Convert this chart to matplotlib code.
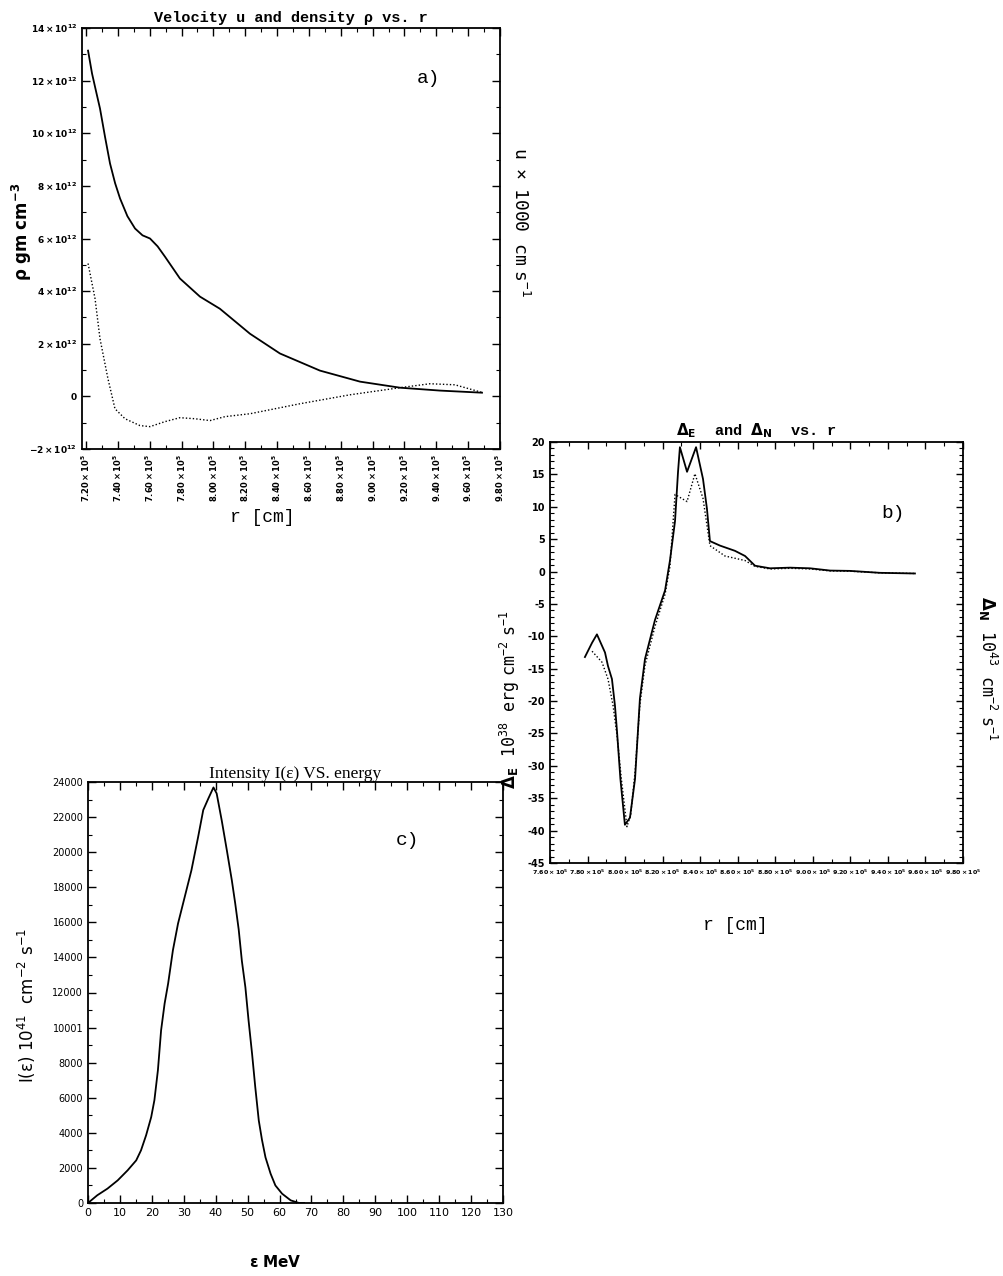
import matplotlib
matplotlib.use("Agg")
import matplotlib.pyplot as plt
from matplotlib.ticker import MultipleLocator, FixedLocator
import numpy as np

# a) density rho (solid) and velocity u (dotted) against radius, r in 1e5 cm, values in 1e12
r_rho = [7.213, 7.238, 7.263, 7.288, 7.320, 7.351, 7.383, 7.414, 7.460, 7.508,
         7.555, 7.602, 7.650, 7.696, 7.790, 7.916, 8.041, 8.230, 8.418, 8.669,
         8.921, 9.172, 9.423, 9.687]
rho = [13.14, 12.27, 11.6, 10.94, 9.85, 8.85, 8.10, 7.52, 6.85, 6.38,
       6.12, 6.00, 5.70, 5.31, 4.48, 3.79, 3.33, 2.38, 1.63, 0.98,
       0.56, 0.33, 0.22, 0.14]
r_u = [7.213, 7.257, 7.288, 7.338, 7.382, 7.445, 7.539, 7.602, 7.696, 7.790,
       7.884, 7.979, 8.073, 8.230, 8.544, 8.858, 9.172, 9.360, 9.517, 9.693]
u = [5.05, 3.71, 2.19, 0.67, -0.47, -0.85, -1.11, -1.15, -0.96, -0.81,
     -0.85, -0.92, -0.77, -0.66, -0.28, 0.06, 0.33, 0.48, 0.44, 0.14]

# b) energy flux Delta_E (solid) and number flux Delta_N (dotted)
r_de = [7.786, 7.824, 7.850, 7.893, 7.909, 7.930, 7.946, 7.957, 7.975, 7.999,
        8.026, 8.053, 8.079, 8.106, 8.159, 8.213, 8.239, 8.266, 8.282, 8.292,
        8.330, 8.378, 8.415, 8.436, 8.452, 8.506, 8.585, 8.639, 8.692, 8.772,
        8.878, 8.985, 9.092, 9.198, 9.358, 9.544]
d_e = [-13.2, -11.0, -9.7, -12.5, -14.6, -16.6, -20.7, -24.7, -32.0, -39.1,
       -38.0, -32.0, -19.6, -13.5, -7.5, -2.9, 1.7, 7.8, 15.4, 19.2,
       15.4, 19.2, 14.3, 9.7, 4.7, 4.0, 3.2, 2.4, 0.9, 0.5,
       0.6, 0.5, 0.15, 0.1, -0.2, -0.3]
r_dn = [7.824, 7.877, 7.909, 7.936, 7.957, 7.980, 8.010, 8.030, 8.053, 8.079,
        8.106, 8.159, 8.213, 8.239, 8.266, 8.330, 8.372, 8.415, 8.452, 8.532,
        8.639, 8.692, 8.772, 8.878, 8.985, 9.092, 9.198, 9.358, 9.544]
d_n = [-12.3, -14.0, -16.6, -20.7, -25.3, -32.0, -39.4, -37.5, -31.0, -20.5,
       -14.5, -8.5, -3.5, 0.8, 11.9, 10.8, 15.1, 11.3, 4.0, 2.4,
       1.7, 0.8, 0.4, 0.5, 0.4, 0.1, 0.05, -0.2, -0.3]

# c) intensity spectrum, energy in MeV, intensity in 1e41 units
eps = [0.0, 2.9, 6.1, 9.3, 12.4, 15.1, 16.6, 18.2, 19.8, 20.8, 21.9, 22.9,
       24.0, 25.1, 26.6, 28.2, 30.3, 32.4, 34.5, 36.1, 37.7, 39.3, 40.3,
       41.9, 43.5, 45.05, 46.1, 47.2, 48.2, 49.3, 50.3, 51.4, 52.4, 53.5,
       54.5, 55.6, 57.2, 58.7, 60.8, 63.5, 66.1, 67.7]
intensity = [0, 440, 820, 1290, 1860, 2430, 3000, 3860, 4900, 5860, 7570,
             9850, 11370, 12510, 14410, 15930, 17450, 18970, 20870, 22400,
             23060, 23690, 23350, 21800, 20100, 18400, 17100, 15600, 13800,
             12300, 10400, 8500, 6600, 4700, 3600, 2600, 1670, 1000, 530,
             150, 0, 0]

a_xticks = [7.2, 7.4, 7.6, 7.8, 8.0, 8.2, 8.4, 8.6, 8.8, 9.0, 9.2, 9.4, 9.6, 9.8]
a_yticks = [-2, 0, 2, 4, 6, 8, 10, 12, 14]
b_xticks = [7.6, 7.8, 8.0, 8.2, 8.4, 8.6, 8.8, 9.0, 9.2, 9.4, 9.6, 9.8]
b_yticks = [20, 15, 10, 5, 0, -5, -10, -15, -20, -25, -30, -35, -40, -45]
c_xticks = list(range(0, 131, 10))
c_yticks = list(range(0, 24001, 2000))
c_ylabels = ['0', '2000', '4000', '6000', '8000', '10001', '12000', '14000',
             '16000', '18000', '20000', '22000', '24000']

plt.rcParams['mathtext.fontset'] = 'dejavusans'
MONO = ['Liberation Mono', 'DejaVu Sans']
SERIF = ['Liberation Serif', 'DejaVu Serif']

W, H = 1004, 1276
fig = plt.figure(figsize=(W / 100, H / 100), dpi=100)


def box(l, t, r, b):
    return [l / W, 1 - b / H, (r - l) / W, (b - t) / H]


def ftext(x, y, s, **kw):
    fig.text(x / W, 1 - y / H, s, ha='center', va='center', **kw)


def style_axes(ax):
    for sp in ax.spines.values():
        sp.set_linewidth(1.3)
    ax.tick_params(which='both', direction='in', top=True, right=True)
    ax.tick_params(which='major', length=6, width=1.0)
    ax.tick_params(which='minor', length=3, width=0.8)


# ---- panel a ----
ax1 = fig.add_axes(box(82, 28, 500, 449))
ax1.plot(r_rho, rho, color='black', lw=1.3)
ax1.plot(r_u, u, color='black', lw=1.0, ls=(0, (1, 1.5)))
ax1.set_xlim(7.175, 9.80)
ax1.set_ylim(-2, 14)
ax1.xaxis.set_major_locator(FixedLocator(a_xticks))
ax1.xaxis.set_minor_locator(MultipleLocator(0.1))
ax1.yaxis.set_major_locator(FixedLocator(a_yticks))
ax1.yaxis.set_minor_locator(MultipleLocator(1))
ax1.set_xticklabels([r'$\mathbf{%.2f\times10^5}$' % v for v in a_xticks],
                    rotation=90, fontsize=6)
ax1.set_yticklabels(['0' if v == 0 else r'$\mathbf{%d\times10^{12}}$' % v
                     for v in a_yticks], fontsize=6.5, fontweight='bold')
style_axes(ax1)
ax1.set_title(u'Velocity u and density \u03c1 vs. r', family=MONO,
              fontweight='bold', fontsize=11, pad=4)
ax1.text(0.83, 0.88, 'a)', transform=ax1.transAxes, family=MONO,
         fontsize=14, ha='center', va='center')
ftext(262, 517, 'r [cm]', family=MONO, fontsize=13)
ftext(22, 232, r'$\mathbf{\rho\ gm\ cm^{-3}}$', fontsize=12, rotation=90)
ftext(520, 222, r'$\mathtt{u\ \times\ 1000\ \ cm\ s^{-1}}$', fontsize=13,
      rotation=270)

# ---- panel b ----
ax2 = fig.add_axes(box(550, 442, 963, 863))
ax2.plot(r_de, d_e, color='black', lw=1.3)
ax2.plot(r_dn, d_n, color='black', lw=1.0, ls=(0, (1, 1.5)))
ax2.set_xlim(7.6, 9.8)
ax2.set_ylim(-45, 20)
ax2.xaxis.set_major_locator(FixedLocator(b_xticks))
ax2.xaxis.set_minor_locator(MultipleLocator(0.1))
ax2.yaxis.set_major_locator(FixedLocator(b_yticks))
ax2.yaxis.set_minor_locator(MultipleLocator(1))
ax2.set_xticklabels([r'$\mathbf{%.2f\times10^5}$' % v for v in b_xticks],
                    fontsize=4.5)
ax2.set_yticklabels(['%d' % v for v in b_yticks], fontsize=7,
                    fontweight='bold')
style_axes(ax2)
ax2.tick_params(which='major', length=5)
ax2.set_title(r'$\mathbf{\Delta_E}$  and $\mathbf{\Delta_N}$  vs. r',
              family=MONO, fontweight='bold', fontsize=11, pad=5)
ax2.text(0.83, 0.83, 'b)', transform=ax2.transAxes, family=MONO,
         fontsize=14, ha='center', va='center')
ftext(735, 925, 'r [cm]', family=MONO, fontsize=13)
ftext(510, 700, r'$\mathbf{\Delta_E}\ \ \mathtt{10^{38}\ \ erg\ cm^{-2}\ s^{-1}}$',
      fontsize=12, rotation=90)
ftext(988, 668, r'$\mathbf{\Delta_N}\ \ \mathtt{10^{43}\ \ cm^{-2}\ s^{-1}}$',
      fontsize=12, rotation=270)

# ---- panel c ----
ax3 = fig.add_axes(box(88, 782, 503, 1203))
ax3.plot(eps, intensity, color='black', lw=1.3)
ax3.set_xlim(0, 130)
ax3.set_ylim(0, 24000)
ax3.xaxis.set_major_locator(FixedLocator(c_xticks))
ax3.xaxis.set_minor_locator(MultipleLocator(5))
ax3.yaxis.set_major_locator(FixedLocator(c_yticks))
ax3.yaxis.set_minor_locator(MultipleLocator(1000))
ax3.set_xticklabels([str(v) for v in c_xticks], fontsize=8)
ax3.set_yticklabels(c_ylabels, fontsize=7)
style_axes(ax3)
ax3.set_title(u'Intensity I(\u03b5) VS. energy', family=SERIF, fontsize=12.5,
              pad=3)
ax3.text(0.77, 0.86, 'c)', transform=ax3.transAxes, family=MONO,
         fontsize=14, ha='center', va='center')
ftext(275, 1262, r'$\mathbf{\varepsilon\ MeV}$', fontsize=11)
ftext(27, 1005, r'$\mathrm{I(\varepsilon)\ 10^{41}\ \ cm^{-2}\ s^{-1}}$',
      fontsize=12, rotation=90)

fig.savefig('out.png', dpi=100, facecolor='white')
